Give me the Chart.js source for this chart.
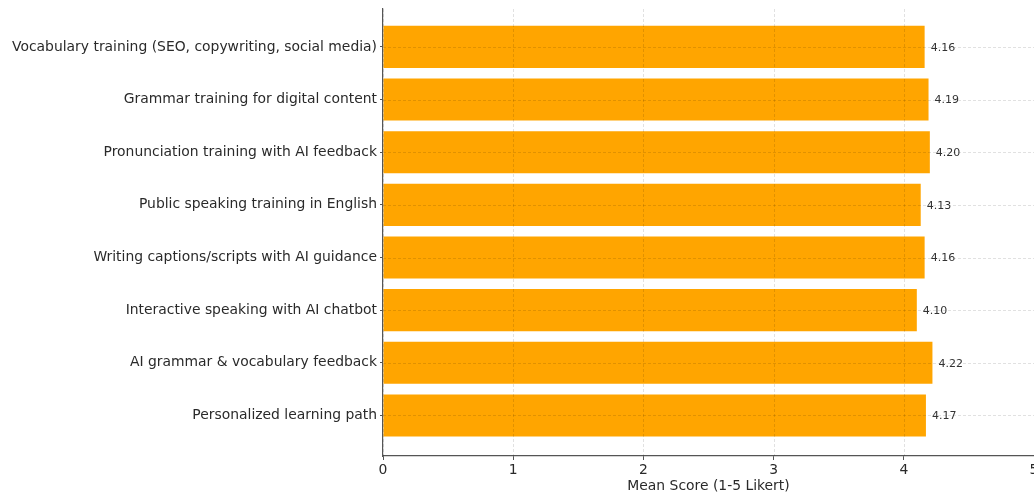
<!DOCTYPE html>
<html>
<head>
<meta charset="utf-8">
<script src="https://cdn.jsdelivr.net/npm/chart.js@4/dist/chart.umd.min.js"></script>
<style>
  html, body { margin: 0; padding: 0; background: #fff; overflow: hidden; }
  #wrap { position: relative; width: 1034px; height: 492px; }
</style>
</head>
<body>
<div id="wrap"><canvas id="chart"></canvas></div>
<script>
// Training priorities and their mean Likert scores
const categories = [
  'Vocabulary training (SEO, copywriting, social media)',
  'Grammar training for digital content',
  'Pronunciation training with AI feedback',
  'Public speaking training in English',
  'Writing captions/scripts with AI guidance',
  'Interactive speaking with AI chatbot',
  'AI grammar & vocabulary feedback',
  'Personalized learning path'
];
const meanScores = [4.16, 4.19, 4.20, 4.13, 4.16, 4.10, 4.22, 4.17];
const xTicks = [0, 1, 2, 3, 4, 5];
const xTitle = 'Mean Score (1-5 Likert)';

const FONT = '"DejaVu Sans", "Liberation Sans", sans-serif';
const AXIS = '#555';
const TEXT = '#2a2a2a';

// Dashed grid drawn above the bars, then the value labels
const overlay = {
  id: 'overlay',
  afterDatasetsDraw(chart) {
    const { ctx, chartArea: a, scales: { x, y } } = chart;
    ctx.save();
    ctx.strokeStyle = 'rgba(0,0,0,0.15)';
    ctx.lineWidth = 0.8;
    ctx.setLineDash([3, 2]);
    xTicks.forEach(v => {
      const px = Math.round(x.getPixelForValue(v)) + 0.5;
      ctx.beginPath(); ctx.moveTo(px, a.top); ctx.lineTo(px, a.bottom); ctx.stroke();
    });
    categories.forEach((_, i) => {
      const py = Math.round(y.getPixelForValue(i)) + 0.5;
      ctx.beginPath(); ctx.moveTo(a.left, py); ctx.lineTo(a.right, py); ctx.stroke();
    });
    ctx.setLineDash([]);
    ctx.fillStyle = '#333';
    ctx.font = '11px ' + FONT;
    ctx.textAlign = 'left';
    ctx.textBaseline = 'middle';
    chart.getDatasetMeta(0).data.forEach((bar, i) => {
      ctx.fillText(meanScores[i].toFixed(2), bar.x + 6, bar.y + 1);
    });
    ctx.restore();
  }
};

new Chart(document.getElementById('chart'), {
  type: 'bar',
  data: {
    datasets: [{
      data: meanScores.map((v, i) => ({ x: v, y: i })),
      backgroundColor: '#FFA500',
      borderWidth: 0,
      barPercentage: 0.8,
      categoryPercentage: 1.0
    }]
  },
  options: {
    indexAxis: 'y',
    responsive: true,
    maintainAspectRatio: false,
    animation: false,
    layout: { padding: { top: 9, right: 0, bottom: 0, left: 0 } },
    plugins: { legend: { display: false }, tooltip: { enabled: false } },
    scales: {
      x: {
        type: 'linear',
        min: 0,
        max: 5,
        afterBuildTicks: s => { s.ticks = xTicks.map(v => ({ value: v })); },
        afterFit: s => { s.height = 36; s.paddingLeft = 0; s.paddingRight = 0; },
        ticks: { color: TEXT, font: { family: FONT, size: 13.9 }, padding: 2, maxRotation: 0 },
        grid: { display: true, drawOnChartArea: false, drawTicks: true, tickLength: 4, color: AXIS },
        border: { display: true, color: AXIS, width: 1.2 },
        title: {
          display: true, text: xTitle, color: TEXT,
          font: { family: FONT, size: 13.9 }, padding: { top: 0, bottom: -3 }
        }
      },
      y: {
        type: 'linear',
        reverse: true,
        offset: false,
        min: -0.72,
        max: 7.77,
        afterBuildTicks: s => { s.ticks = categories.map((_, i) => ({ value: i })); },
        afterFit: s => { s.width = 383; s.paddingTop = 0; s.paddingBottom = 0; },
        ticks: {
          color: TEXT, font: { family: FONT, size: 13.9 }, padding: 3,
          autoSkip: false,
          callback: v => categories[v]
        },
        grid: { display: true, offset: false, drawOnChartArea: false, drawTicks: true, tickLength: 3, color: AXIS },
        border: { display: true, color: AXIS, width: 1.2 }
      }
    }
  },
  plugins: [overlay]
});
</script>
</body>
</html>
